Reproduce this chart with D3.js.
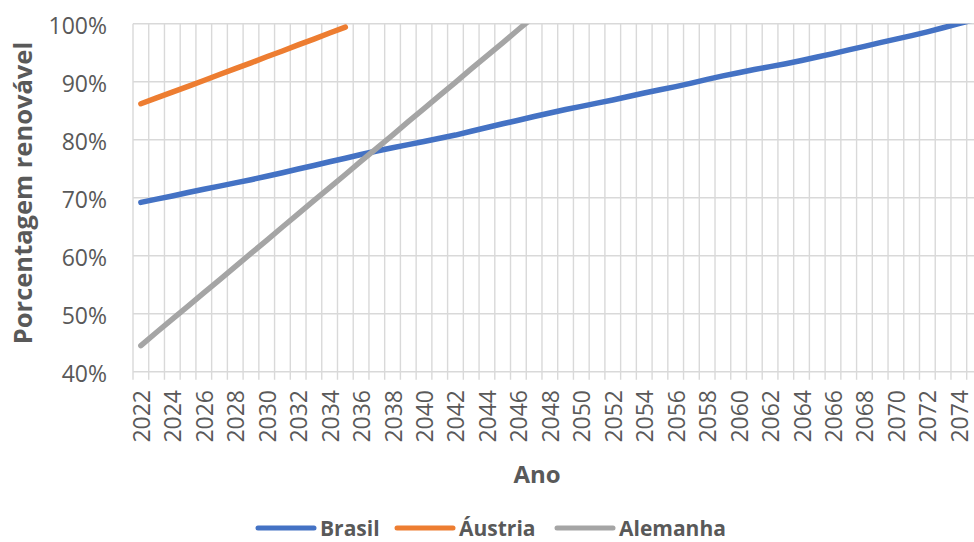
<!DOCTYPE html>
<html><head><meta charset="utf-8">
<script src="https://cdn.jsdelivr.net/npm/d3@7"></script>
<style>
html,body{margin:0;padding:0;background:#fff;overflow:hidden;}
svg{display:block;}
text{font-family:"Open Sans",sans-serif;fill:#595959;}
</style></head>
<body>
<svg id="chart" width="974" height="542"></svg>
<script>
// Categories (years)
const years = [2022,2023,2024,2025,2026,2027,2028,2029,2030,2031,2032,2033,2034,2035,2036,2037,2038,2039,2040,2041,2042,2043,2044,2045,2046,2047,2048,2049,2050,2051,2052,2053,2054,2055,2056,2057,2058,2059,2060,2061,2062,2063,2064,2065,2066,2067,2068,2069,2070,2071,2072,2073,2074,2075];
// Series values (% renewable)
const brasil = [69.2,69.75,70.3,70.9,71.45,72.0,72.55,73.1,73.7,74.3,74.95,75.55,76.2,76.8,77.45,78.05,78.6,79.15,79.7,80.25,80.8,81.45,82.1,82.75,83.35,84.0,84.6,85.2,85.75,86.3,86.85,87.45,88.05,88.6,89.15,89.75,90.4,91.0,91.55,92.1,92.6,93.1,93.65,94.25,94.85,95.5,96.1,96.75,97.35,97.95,98.6,99.3,100.0,100.7];
const austria = [86.2,87.2,88.2,89.2,90.2,91.25,92.25,93.25,94.3,95.3,96.35,97.35,98.4,99.4];
const alemanha = [44.5,46.8,49.05,51.3,53.6,55.85,58.1,60.4,62.65,64.95,67.2,69.5,71.75,74.0,76.3,78.55,80.8,83.1,85.35,87.65,89.9,92.2,94.45,96.7,99.0,101.25];
// Tick labels
const yTicks = [40,50,60,70,80,90,100];
const xLabelYears = [2022,2024,2026,2028,2030,2032,2034,2036,2038,2040,2042,2044,2046,2048,2050,2052,2054,2056,2058,2060,2062,2064,2066,2068,2070,2072,2074];
const seriesNames = ["Brasil","Áustria","Alemanha"];
const seriesColors = ["#4472C4","#ED7D31","#A5A5A5"];
const yTitle = "Porcentagem renovável";
const xTitle = "Ano";

const svg = d3.select("#chart");
const pLeft = 133, pTop = 23.7, pBottom = 371.7, band = 15.73;
const pRight = pLeft + band * years.length;

const x = d3.scaleBand().domain(years).range([pLeft, pRight]).padding(0);
const y = d3.scaleLinear().domain([40,100]).range([pBottom, pTop]);

svg.append("defs").append("clipPath").attr("id","plotclip")
  .append("rect").attr("x",pLeft).attr("y",pTop).attr("width",pRight-pLeft).attr("height",pBottom-pTop);

const grid = svg.append("g").attr("stroke","#d9d9d9").attr("stroke-width",1.4);
grid.selectAll("line.h").data(yTicks).join("line").attr("class","h")
  .attr("x1",pLeft).attr("x2",pRight)
  .attr("y1",d=>y(d)).attr("y2",d=>y(d));
const bounds = years.map(d=>x(d)).concat([pRight]);
grid.selectAll("line.v").data(bounds).join("line").attr("class","v")
  .attr("x1",d=>d).attr("x2",d=>d)
  .attr("y1",pTop).attr("y2",pBottom+8);

svg.append("g").selectAll("text").data(yTicks).join("text")
  .attr("x",107).attr("y",d=>y(d)+1)
  .attr("text-anchor","end").attr("dominant-baseline","central")
  .style("font-size","23px")
  .text(d=>d3.format("d")(d)+"%");

svg.append("g").selectAll("text").data(xLabelYears).join("text")
  .attr("transform",d=>`translate(${x(d)+band/2},390) rotate(-90)`)
  .attr("text-anchor","end").attr("dominant-baseline","central")
  .style("font-size","23px")
  .text(d=>d);

const line = d3.line().x((d,i)=>x(years[i])+band/2).y(d=>y(d));
const plot = svg.append("g").attr("clip-path","url(#plotclip)");
[brasil, austria, alemanha].forEach((s,i)=>{
  plot.append("path").datum(s)
    .attr("fill","none").attr("stroke",seriesColors[i])
    .attr("stroke-width",5.5).attr("stroke-linecap","round").attr("stroke-linejoin","round")
    .attr("d",line);
});

svg.append("text")
  .attr("transform","translate(22,193) rotate(-90)")
  .attr("text-anchor","middle").attr("dominant-baseline","central")
  .style("font-size","25.5px").style("font-weight","bold")
  .text(yTitle);
svg.append("text")
  .attr("x",537).attr("y",483)
  .attr("text-anchor","middle")
  .style("font-size","24px").style("font-weight","bold")
  .text(xTitle);

const legendX = [258, 397, 557];
const lg = svg.append("g");
seriesNames.forEach((n,i)=>{
  lg.append("line").attr("x1",legendX[i]).attr("x2",legendX[i]+56)
    .attr("y1",528).attr("y2",528)
    .attr("stroke",seriesColors[i]).attr("stroke-width",5).attr("stroke-linecap","round");
  lg.append("text").attr("x",legendX[i]+62).attr("y",527.5)
    .attr("dominant-baseline","central")
    .style("font-size","21px").style("font-weight","bold")
    .text(n);
});
</script>
</body></html>
